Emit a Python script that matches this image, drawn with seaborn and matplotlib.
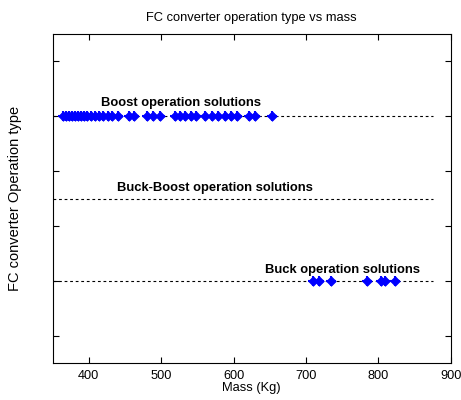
import numpy as np
import pandas as pd
import matplotlib
matplotlib.use('Agg')
import matplotlib.pyplot as plt
import seaborn as sns

# masses (Kg)
boost_mass = [365, 369, 373, 377, 381, 385, 389, 393, 398, 403, 408, 414, 420, 426, 432, 440,
              455, 463, 481, 489, 498, 519, 526, 533, 541, 548, 560, 570, 579, 588, 596,
              605, 621, 630, 653]
buck_mass = [709, 718, 735, 784, 803, 809, 823]
buckboost_mass = []

# level of each operation type on the (unlabelled) y axis
levels = {'Boost': 4.5, 'Buck-Boost': 3.0, 'Buck': 1.5}
line_span = [350, 876]
labels = {'Boost': ('Boost operation solutions', 528, 4.75),
          'Buck-Boost': ('Buck-Boost operation solutions', 574, 3.2),
          'Buck': ('Buck operation solutions', 750, 1.7)}

pts = pd.DataFrame({
    'mass': boost_mass + buck_mass,
    'type': ['Boost'] * len(boost_mass) + ['Buck'] * len(buck_mass),
})
pts['level'] = pts['type'].map(levels)

lines = pd.DataFrame([(m, t, lv) for t, lv in levels.items() for m in line_span],
                     columns=['mass', 'type', 'level'])

sns.set_style('white')
plt.rcParams['font.family'] = ['Liberation Sans', 'DejaVu Sans']
plt.rcParams['text.color'] = 'black'
plt.rcParams['axes.labelcolor'] = 'black'

fig = plt.figure(figsize=(4.61, 4.0), dpi=100)
ax = fig.add_axes([0.114, 0.0925, 0.864, 0.8225])

for t in levels:
    sub = lines[lines['type'] == t]
    ax.plot(sub['mass'], sub['level'], color='black', lw=0.8, ls=(0, (2.5, 2.5)), zorder=1)

sns.scatterplot(data=pts, x='mass', y='level', marker='D', s=24, color='blue',
                edgecolor='blue', linewidth=0.5, ax=ax, zorder=3, legend=False)
sns.scatterplot(data=pts, x='mass', y='level', marker='+', s=60, color='blue',
                linewidth=1.5, ax=ax, zorder=3, legend=False)

for t, (txt, x, y) in labels.items():
    ax.text(x, y, txt, ha='center', va='center', fontsize=9.4, fontweight='bold', color='black')

ax.set_xlim(350, 900)
ax.set_ylim(0, 6)
ax.set_xticks([400, 500, 600, 700, 800, 900])
ax.set_yticks([0.5, 1.5, 2.5, 3.5, 4.5, 5.5])
ax.set_yticklabels([])
ax.tick_params(direction='in', length=4, width=0.8, top=True, right=True,
               left=True, bottom=True, labelsize=9.2, pad=5, colors='black')
for s in ax.spines.values():
    s.set_color('black')
    s.set_linewidth(0.8)

ax.set_title('FC converter operation type vs mass', fontsize=9.3, pad=9, color='black')
ax.set_xlabel('Mass (Kg)', fontsize=9.3, labelpad=0, color='black')
ax.set_ylabel('FC converter Operation type', fontsize=10.5, labelpad=17, color='black')

fig.savefig('out.png', dpi=100)
